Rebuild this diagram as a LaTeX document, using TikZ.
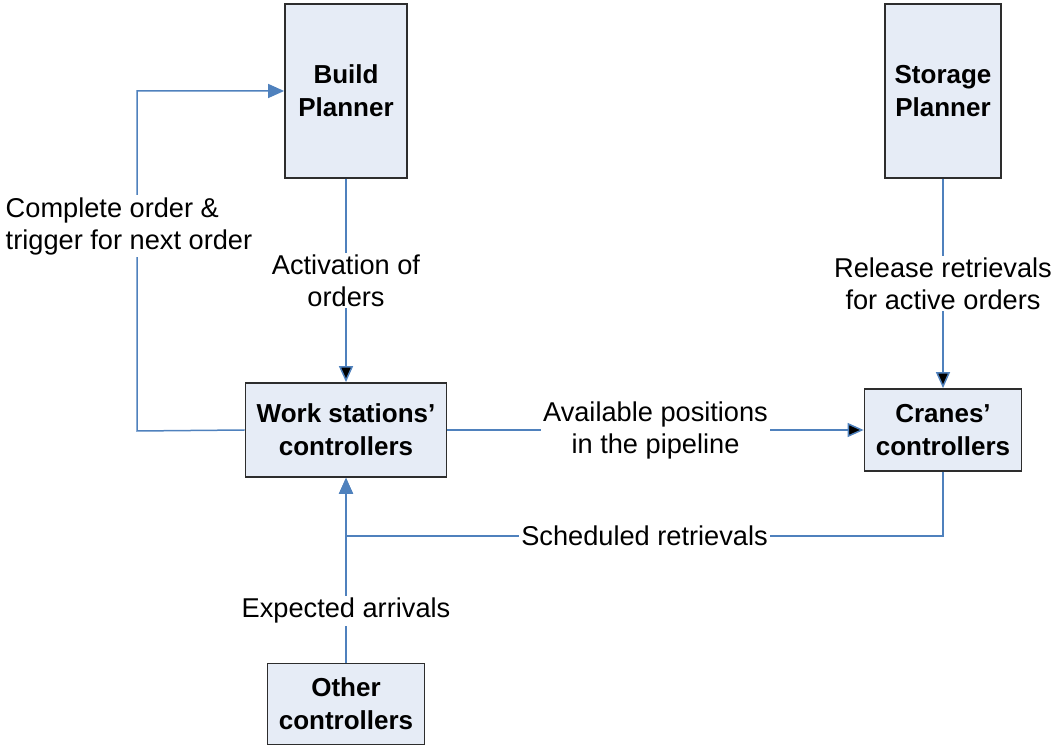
\documentclass[tikz,border=0pt]{standalone}
\usepackage{fontspec}
\setmainfont{Liberation Sans}
\usetikzlibrary{arrows.meta}
\definecolor{box_fill}{RGB}{230,236,246}
\definecolor{box_edge}{RGB}{45,45,45}
\definecolor{edge_blue}{RGB}{79,129,189}

\begin{document}
\begin{tikzpicture}[x=0.5pt,y=-0.5pt,->,>={Triangle[length=8pt,width=7pt]},line width=0.75pt]
    \tikzstyle{block}=[draw=box_edge, fill=box_fill, line width=0.9pt, text=black, align=center, inner sep=0pt, font=\fontsize{13}{16.5}\selectfont\bfseries]
    \tikzstyle{lbl}=[fill=white, text=black, align=center, inner sep=1pt, font=\fontsize{13.6}{16}\selectfont]
    \tikzstyle{flow}=[draw=edge_blue]

    \useasboundingbox (0,0) rectangle (1053,747);

    \node[block, minimum width=61pt,   minimum height=87pt]   (build)   at (346,91)    {Build\\Planner};
    \node[block, minimum width=58pt,   minimum height=87pt]   (storage) at (943,91)    {Storage\\Planner};
    \node[block, minimum width=100.5pt,minimum height=47pt]   (work)    at (346,430)   {Work stations’\\controllers};
    \node[block, minimum width=78.5pt, minimum height=41pt]   (cranes)  at (943,430)   {Cranes’\\controllers};
    \node[block, minimum width=78.5pt, minimum height=40.5pt] (other)   at (346,704)   {Other\\controllers};
    \coordinate (back)  at (137,431);
    \coordinate (merge) at (346,536);

    \path[flow]
     (build)   edge node[lbl] {Activation of\\orders} (work)
     (storage) edge node[lbl] {Release retrievals\\for active orders} (cranes)
     (work)    edge node[lbl] {Available positions\\in the pipeline} (cranes)
     (other)   edge node[lbl, pos=0.28] {Expected arrivals} (work)
     ;
    \draw[flow] (cranes.south) |- node[lbl, pos=0.75] {Scheduled retrievals} (merge) -- (work.south);
    \draw[flow] (work.west) -- (back) |- (build.west);
    \node[lbl, align=left, anchor=west] (loopnote) at (3,226) {Complete order \&\\trigger for next order};
\end{tikzpicture}
\end{document}
